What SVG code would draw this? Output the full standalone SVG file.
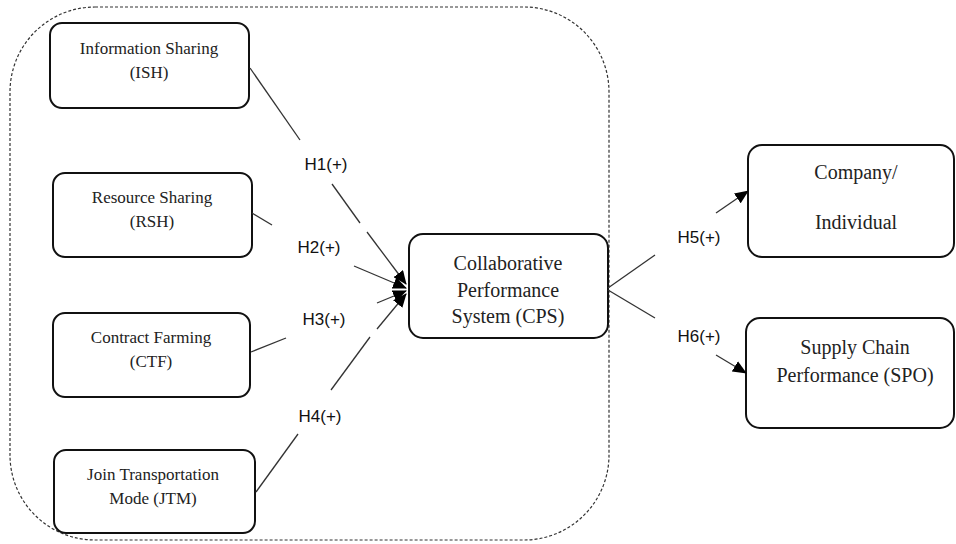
<svg xmlns="http://www.w3.org/2000/svg" width="956" height="544" viewBox="0 0 956 544">
<style>
.box{fill:#fff;stroke:#111;stroke-width:2}
.t{font-family:"Liberation Serif","Times New Roman",serif;fill:#222;text-anchor:middle}
.s{font-size:17px}
.b{font-size:20px}
.h{font-family:"Liberation Sans",Arial,sans-serif;font-size:17px;fill:#111;text-anchor:middle}
.ln{stroke:#333;stroke-width:1.3;fill:none}
</style>
<defs>
<marker id="ah" markerUnits="userSpaceOnUse" markerWidth="14" markerHeight="12" viewBox="0 0 14 12" refX="13" refY="6" orient="auto">
<path d="M0,0 L14,6 L0,12 Z" fill="#000"/>
</marker>
</defs>
<rect id="container" x="10" y="7" width="599" height="533" rx="85" ry="85" fill="none" stroke="#333" stroke-width="1.2" stroke-dasharray="3,2"/>
<g id="ISH"><rect class="box" x="50" y="23" width="199" height="85" rx="12"/><text class="t s" x="149" y="54">Information Sharing</text><text class="t s" x="149" y="78">(ISH)</text></g>
<g id="RSH"><rect class="box" x="53" y="173" width="199" height="84" rx="12"/><text class="t s" x="152" y="203">Resource Sharing</text><text class="t s" x="152" y="227">(RSH)</text></g>
<g id="CTF"><rect class="box" x="53" y="313" width="197" height="84" rx="12"/><text class="t s" x="151" y="343">Contract Farming</text><text class="t s" x="151" y="367">(CTF)</text></g>
<g id="JTM"><rect class="box" x="54" y="450" width="201" height="83" rx="12"/><text class="t s" x="153" y="480">Join Transportation</text><text class="t s" x="153" y="504">Mode (JTM)</text></g>
<g id="CPS"><rect class="box" x="409" y="234" width="199" height="104" rx="14"/><text class="t b" x="508" y="270">Collaborative</text><text class="t b" x="508" y="297">Performance</text><text class="t b" x="508" y="323">System (CPS)</text></g>
<g id="CIP"><rect class="box" x="748" y="145" width="206" height="112" rx="14"/><text class="t b" x="856" y="179">Company/</text><text class="t b" x="856" y="229">Individual</text></g>
<g id="SPO"><rect class="box" x="746" y="318" width="208" height="110" rx="14"/><text class="t b" x="855" y="354">Supply Chain</text><text class="t b" x="855" y="382">Performance (SPO)</text></g>
<g id="connectors">
<line class="ln" x1="250" y1="68" x2="300" y2="140"/>
<line class="ln" x1="332" y1="184" x2="360" y2="223"/>
<line class="ln" x1="367" y1="232" x2="406" y2="284" marker-end="url(#ah)"/>
<line class="ln" x1="252" y1="213" x2="272" y2="225"/>
<line class="ln" x1="354" y1="266" x2="406" y2="288" marker-end="url(#ah)"/>
<line class="ln" x1="251" y1="352" x2="286" y2="338"/>
<line class="ln" x1="377" y1="303" x2="406" y2="291" marker-end="url(#ah)"/>
<line class="ln" x1="256" y1="492" x2="298" y2="434"/>
<line class="ln" x1="331" y1="390" x2="370" y2="337"/>
<line class="ln" x1="377" y1="329" x2="406" y2="294" marker-end="url(#ah)"/>
<line class="ln" x1="608" y1="288" x2="655" y2="255"/>
<line class="ln" x1="716" y1="213" x2="748" y2="191" marker-end="url(#ah)"/>
<line class="ln" x1="608" y1="290" x2="655" y2="318"/>
<line class="ln" x1="716" y1="355" x2="746" y2="373" marker-end="url(#ah)"/>
<text class="h" x="326" y="170">H1(+)</text>
<text class="h" x="319" y="253">H2(+)</text>
<text class="h" x="324" y="325">H3(+)</text>
<text class="h" x="320" y="422">H4(+)</text>
<text class="h" x="699" y="243">H5(+)</text>
<text class="h" x="699" y="342">H6(+)</text>
</g>
</svg>
